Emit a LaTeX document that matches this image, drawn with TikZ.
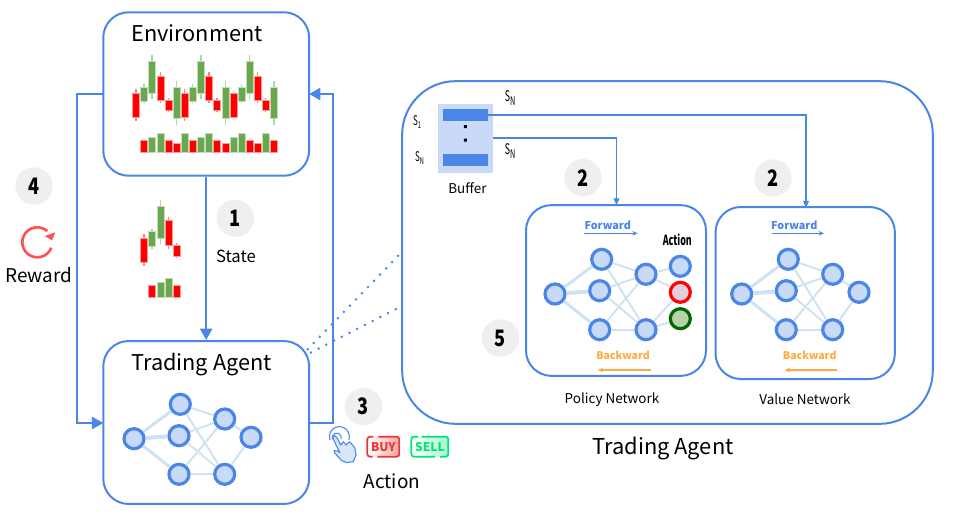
\documentclass[tikz,border=0pt]{standalone}
\usepackage{fontspec}
\setmainfont{Noto Sans CJK SC}
\usetikzlibrary{arrows.meta,shapes.geometric,calc}
\definecolor{bl}{HTML}{4A86E8}
\definecolor{lbl}{HTML}{C9DAF8}
\definecolor{edgec}{HTML}{CFE2F3}
\definecolor{gn}{HTML}{6AA84F}
\definecolor{rd}{HTML}{FF0000}
\definecolor{orng}{HTML}{FFAB40}
\definecolor{numbg}{HTML}{EFEFEF}
\definecolor{rew}{HTML}{FF5252}
\definecolor{buyc}{HTML}{E53935}
\definecolor{sellc}{HTML}{00E676}
\newcommand{\fsz}[1]{\fontsize{#1}{#1}\selectfont}
\newcommand{\cndl}[6]{% x wicktop bodytop bodybot wickbot colour
  \draw[#6!50!white,line width=1pt] (#1,#2)--(#1,#5);
  \fill[#6,draw=#6!40!white,line width=.3pt] (#1-10.5,#3) rectangle (#1+10.5,#4);}
\newcommand{\volbar}[4]{\fill[#4,draw=#4!40!white,line width=.3pt] (#1-10.5,#2) rectangle (#1+10.5,#3);}
\tikzset{
  x=.75pt,y=-.75pt,
  box/.style={draw=bl,line width=1.5pt,rounded corners=19pt,fill=none,inner sep=0pt},
  conn/.style={draw=bl,line width=1.6pt,-{Triangle[length=8.5pt,width=9pt]}},
  thinconn/.style={draw=bl,line width=.9pt,-{Triangle[length=5pt,width=4.5pt]}},
  smallarrow/.style={line width=.8pt,-{Stealth[length=4pt,width=3.5pt]}},
  neuron/.style={circle,draw=bl,fill=lbl,line width=2.4pt,minimum size=15pt,inner sep=0pt},
  edgeA/.style={draw=edgec,line width=1.4pt},
  numc/.style={circle,fill=numbg,minimum size=28pt,inner sep=0pt,font=\fsz{17}\bfseries},
  lab/.style={inner sep=0pt,font=\fsz{12.5}},
  big/.style={inner sep=0pt,font=\fsz{16.3}},
  small/.style={inner sep=0pt,font=\fsz{10.1}},
  fwd/.style={inner sep=0pt,font=\fsz{8.1}\bfseries,text=bl},
  bwd/.style={inner sep=0pt,font=\fsz{7.9}\bfseries,text=orng},
}
\newcommand{\nedges}[1]{%
  \foreach \a/\b in {1/2,1/4}{\draw[edgec,line width=2.2pt] (#1\a)--(#1\b);}
  \draw[edgec,line width=3pt] (#11)--(#13);
  \foreach \a/\b in {2/5,2/6,3/5,3/6,4/5,4/6}{\draw[edgeA] (#1\a)--(#1\b);}
}
\begin{document}
\begin{tikzpicture}
\useasboundingbox[fill=white] (0,0) rectangle (976,521);

% boxes
\node[box,minimum width=154.4pt,minimum height=122.6pt] (env) at (206.2,94) {};
\node[box,minimum width=154.4pt,minimum height=122.2pt] (agent) at (206.2,422.5) {};
\node[box,rounded corners=40pt,minimum width=398pt,minimum height=257pt] (outer) at (667.5,252.5) {};
\node[box,minimum width=135pt,minimum height=128pt] (policy) at (616,290.5) {};
\node[box,minimum width=134.5pt,minimum height=129pt] (value) at (805.2,293) {};

\node[big] (envt) at (197,33.5) {Environment};
\node[big] (agentt) at (201.5,365) {Trading Agent};
\node[big,font=\fsz{16.4}] (bigt) at (663,449) {Trading Agent};

% candles environment
\begin{scope}[shift={(100,0)},x=.25pt,y=-.25pt]
\foreach \xx/\wt/\bt/\bb/\wb/\cc in {
 108/268/279/352/362/rd,132/253/261/304/310/gn,156/165/183/279/296/gn,181/216/228/300/310/rd,205/295/300/332/337/rd,230/243/261/356/374/gn,
 254/268/279/352/362/rd,278/253/261/304/310/gn,303/165/183/279/296/gn,327/216/228/300/310/rd,351/295/300/332/337/rd,376/243/261/356/374/gn,
 400/279/279/352/352/rd,424/253/261/304/310/gn,449/165/183/279/296/gn,473/216/228/300/310/rd,497/295/300/332/337/rd,522/243/261/356/374/gn}
 {\cndl{\xx}{\wt}{\bt}{\bb}{\wb}{\cc}}
\foreach \xx/\tp/\cc in {132/422/rd,156/412/gn,181/400/gn,205/422/rd,230/431/rd,254/400/gn,278/422/rd,303/412/gn,327/400/gn,351/422/rd,376/431/rd,400/412/gn,424/400/gn,449/422/rd,473/431/rd,497/400/gn,522/422/rd}
 {\volbar{\xx}{\tp}{456}{\cc}}
\end{scope}
% candles state
\begin{scope}[shift={(100,190)},x=.25pt,y=-.25pt]
\foreach \xx/\wt/\bt/\bb/\wb/\cc in {132/133/145/217/228/rd,156/118/125/170/176/gn,181/30/48/144/161/gn,205/82/92/165/176/rd,230/160/165/198/203/rd}
 {\cndl{\xx}{\wt}{\bt}{\bb}{\wb}{\cc}}
\foreach \xx/\tp/\cc in {156/287/rd,181/278/gn,205/264/gn,230/287/rd}
 {\volbar{\xx}{\tp}{322}{\cc}}
\end{scope}

% main connectors
\coordinate (envL) at (103.3,94);
\coordinate (envR) at (309,94);
\coordinate (agL) at (103.3,423);
\coordinate (agR) at (309,423);
\coordinate (lc1) at (77,94);
\coordinate (lc2) at (77,423);
\coordinate (rc1) at (333,423);
\coordinate (rc2) at (333,94);
\draw[conn] (env.south)--(agent.north);
\draw[conn,line join=miter] (envL)--(lc1)--(lc2)--(agL);
\draw[conn,line join=miter] (agR)--(rc1)--(rc2)--(envR);
\coordinate (dA) at (307,350);
\coordinate (dB) at (400,254);
\coordinate (dC) at (310,353);
\coordinate (dD) at (400,307);
\draw[bl,line width=1.5pt,dash pattern=on 1.5pt off 5pt] (dA)--(dB);
\draw[bl,line width=1.5pt,dash pattern=on 1.5pt off 5pt] (dC)--(dD);

% number badges
\node[numc] (n1) at (235.3,218.3) {\scalebox{.8}[1]{1}};
\node[numc] (n2a) at (583,177.7) {\scalebox{.8}[1]{2}};
\node[numc] (n2b) at (773,178) {\scalebox{.8}[1]{2}};
\node[numc] (n3) at (363.5,406.7) {\scalebox{.8}[1]{3}};
\node[numc] (n4) at (34,186) {\scalebox{.8}[1]{4}};
\node[numc] (n5) at (500.5,338) {\scalebox{.8}[1]{5}};

\node[lab] (statet) at (236,256) {State};
\node[lab,font=\fsz{14.2}] (rewardt) at (39,275) {Reward};
\node[lab,font=\fsz{14.2}] (actiont) at (392,481) {Action};

% reward icon
\begin{scope}[shift={(37.3,242.3)},x=.75pt,y=.75pt]
\draw[rew,line width=2pt] (-21:15) arc (-21:-312:15);
\fill[rew] (7.7,6.3)--(18,10)--(14.7,2)--cycle;
\end{scope}

% hand icon and buttons
\begin{scope}[shift={(320,390)},x=.25pt,y=-.25pt]
\draw[bl,line width=.8pt] (30,150) arc[start angle=200,end angle=-20,radius=7.5pt];
\draw[bl,line width=.8pt] (37,148) arc[start angle=200,end angle=-20,radius=3.5pt];
\draw[bl,fill=lbl!70!white,line width=.8pt,line join=round]
 (38,142)--(45,137)--(52,145)--(62,165)--(70,155)--(78,165)--(88,155)--(98,165)--(105,175)
 --(108,195)--(100,215)--(80,218)--(65,212)--(45,190)--(42,182)--(52,183)--(60,188)--(48,165)--cycle;
% BUY
\path[left color=white,right color=buyc!45!white] (145,142) rectangle (236,198);
\draw[buyc,line width=1.3pt,rounded corners=2pt] (160,140)--(142,140)--(142,200)--(158,200) (172,200)--(238,200)--(238,140)--(175,140);
\node[inner sep=0pt,text=buyc,font=\fsz{9}\bfseries] (buyt) at (190,170) {BUY};
% SELL
\path[left color=white,right color=sellc!35!white] (277,142) rectangle (383,198);
\draw[sellc,line width=1.3pt,rounded corners=2pt] (295,140)--(274,140)--(274,200)--(345,200) (360,200)--(385,200)--(385,140)--(305,140);
\node[inner sep=0pt,text=sellc,font=\fsz{9}\bfseries] (sellt) at (330,170) {SELL};
\end{scope}

% buffer
\node[fill=lbl,minimum width=41pt,minimum height=51.5pt,inner sep=0pt] (buffer) at (465.6,138.3) {};
\node[fill=bl,minimum width=33.7pt,minimum height=9pt,inner sep=0pt] (bar1) at (465.2,115) {};
\node[fill=bl,minimum width=33.7pt,minimum height=9pt,inner sep=0pt] (bar2) at (465.2,160) {};
\fill[black] (463.8,125.2) rectangle (466.8,128.2) (463.8,138.5) rectangle (466.8,141.5);
\node[small] (buft) at (467.5,188.5) {Buffer};
\node[inner sep=0pt,font=\fsz{10}] (s1) at (417,122) {\scalebox{.6}[1]{S\raisebox{-2.5pt}{\fsz{7}1}}};
\node[inner sep=0pt,font=\fsz{10}] (sn1) at (419.5,158) {\scalebox{.6}[1]{S\raisebox{-2.5pt}{\fsz{7}N}}};
\node[inner sep=0pt,font=\fsz{11}] (sn2) at (510,98) {\scalebox{.6}[1]{S\raisebox{-2.5pt}{\fsz{9}N}}};
\node[inner sep=0pt,font=\fsz{11}] (sn3) at (510,151) {\scalebox{.6}[1]{S\raisebox{-2.5pt}{\fsz{9}N}}};

% buffer connectors
\coordinate (b1c) at (806,115);
\coordinate (v1) at (806,207.5);
\coordinate (b2s) at (493.3,138);
\coordinate (b2c) at (616.5,138);
\coordinate (p1) at (616.5,205);
\draw[thinconn,line join=miter] (bar1.east)--(bar1.east -| b1c)--(v1);
\draw[thinconn,line join=miter] (b2s)--(b2c)--(p1);

% network in small agent
\foreach \i/\px/\py in {1/134/438.7,2/180.3/404.3,3/179/435.7,4/179/474.3,5/224.7/419,6/224.7/474.3,7/251/437.3}
  \node[neuron] (a\i) at (\px,\py) {};
\nedges{a}
\draw[edgeA] (a5)--(a7) (a6)--(a7);

% policy network
\foreach \i/\px/\py in {1/555/294,2/601.7/259.3,3/599.7/290.7,4/599.7/329.7,5/646/274.3,6/646/329.7}
  \node[neuron] (p\i) at (\px,\py) {};
\node[neuron] (po1) at (680.3,266.3) {};
\node[neuron,draw=rd,fill=pink!50!lbl] (po2) at (680.3,292.3) {};
\node[neuron,draw=green!40!black,fill=gn!50!white] (po3) at (680.3,318.7) {};
\nedges{p}
\draw[edgeA] (p5)--(po1) (p5)--(po2) (p6)--(po2) (p6)--(po3);
\node[fwd] (pf) at (607.7,225) {Forward};
\coordinate (pfa) at (584.3,233.3);
\coordinate (pfb) at (637.7,233.3);
\draw[smallarrow,bl] (pfa)--(pfb);
\node[bwd] (pb) at (623,355.2) {Backward};
\coordinate (pba) at (650.7,370);
\coordinate (pbb) at (597.7,370);
\draw[smallarrow,orng] (pba)--(pbb);
\node[inner sep=0pt,font=\fsz{10.5}\bfseries] (pact) at (677.3,239.3) {\scalebox{.64}[1]{Action}};
\node[small] (pt) at (612,400) {Policy Network};

% value network
\foreach \i/\px/\py in {1/741.7/294,2/788.3/259.3,3/786.3/290.7,4/786.3/329.7,5/832.7/274.3,6/832.7/329.7,7/859/292.3}
  \node[neuron] (v\i) at (\px,\py) {};
\nedges{v}
\draw[edgeA] (v5)--(v7) (v6)--(v7);
\node[fwd] (vf) at (794.3,225) {Forward};
\coordinate (vfa) at (771.7,233.3);
\coordinate (vfb) at (824,233.3);
\draw[smallarrow,bl] (vfa)--(vfb);
\node[bwd] (vb) at (809.7,355.2) {Backward};
\coordinate (vba) at (837.3,370);
\coordinate (vbb) at (784.7,370);
\draw[smallarrow,orng] (vba)--(vbb);
\node[small] (vt) at (805,399.5) {Value Network};
\end{tikzpicture}
\end{document}
